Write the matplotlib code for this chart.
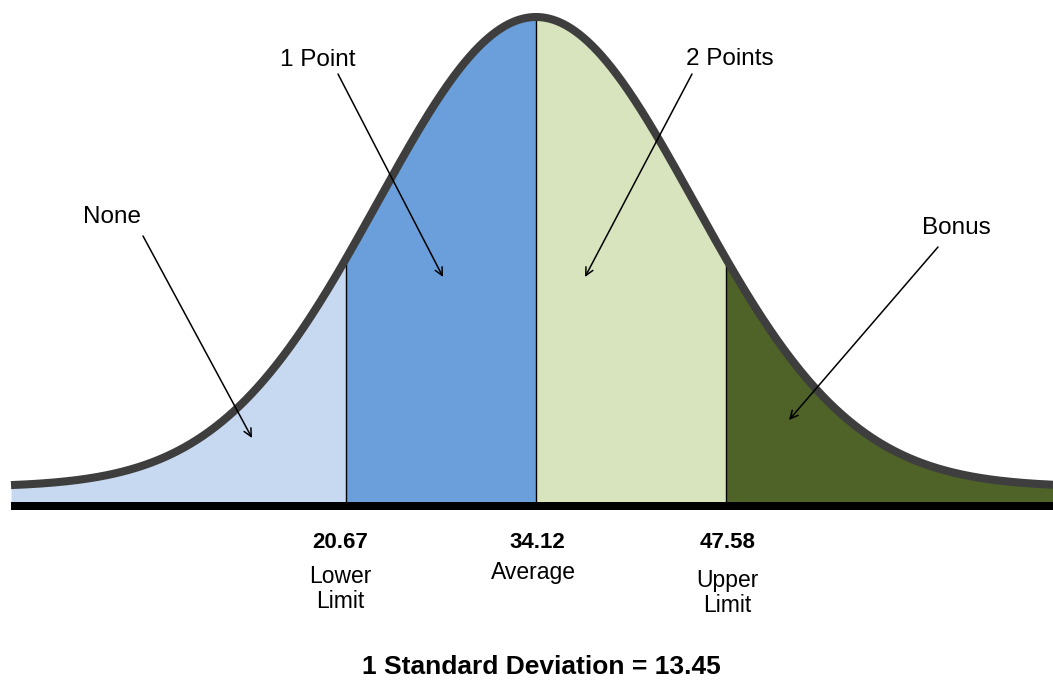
import numpy as np
import matplotlib
matplotlib.use("Agg")
import matplotlib.pyplot as plt
from matplotlib.patches import Rectangle

# ---- data ----
mean = 34.12
std_dev = 13.45
cut_values = [20.67, 34.12, 47.58]
cut_labels = ["Lower\nLimit", "Average", "Upper\nLimit"]
regions = ["None", "1 Point", "2 Points", "Bonus"]
region_colors = ["#C6D9F1", "#6A9FDC", "#D7E4BD", "#4F6228"]
title_text = "1 Standard Deviation = 13.45"

# ---- drawing style of the stylised bell curve ----
curve_width = 11.2      # visual spread of the drawn bell
curve_peak = 470.0      # peak height (axis units)
curve_floor = 15.0      # tail height above the baseline
x_lo, x_hi = -3.06, 70.73

plt.rcParams["font.family"] = ["Liberation Sans", "DejaVu Sans"]

fig = plt.figure(figsize=(10.53, 6.87), dpi=100)
ax = fig.add_axes([0, 0, 1, 1])
px_per_unit = 14.12
ax.set_xlim(mean - 536 / px_per_unit, mean + 517 / px_per_unit)
ax.set_ylim(-185, 502)
ax.axis("off")


def bell(x):
    return curve_floor + curve_peak * np.exp(-0.5 * ((x - mean) / curve_width) ** 2)


edges = [x_lo] + cut_values + [x_hi]
for i, col in enumerate(region_colors):
    xs = np.linspace(edges[i], edges[i + 1], 300)
    ax.fill_between(xs, 0, bell(xs), color=col, linewidth=0, zorder=1)

for c in cut_values:
    ax.plot([c, c], [0, bell(c)], color="black", lw=1.0, zorder=2)

xs = np.linspace(x_lo, x_hi, 1200)
ax.plot(xs, bell(xs), color="#3E3E3E", lw=5.8, solid_capstyle="butt", zorder=3)

# baseline bar
ax.add_patch(Rectangle((x_lo, -8), x_hi - x_lo + 5, 8, facecolor="black",
                       edgecolor="none", zorder=4, clip_on=False))


def px2x(px):
    return mean + (px - 536) / px_per_unit


def py2y(py):
    return 502 - py


# region labels with arrows (text pos, arrow start, arrow end) in pixel terms
label_pos = [(112, 217), (318, 60), (730, 59), (956, 228)]
arrow_from = [(143, 236), (338, 74), (692, 74), (938, 247)]
arrow_to = [(252, 438), (443, 277), (585, 277), (789, 420)]
for name, tp, af, at in zip(regions, label_pos, arrow_from, arrow_to):
    ax.text(px2x(tp[0]), py2y(tp[1]), name, ha="center", va="center",
            fontsize=17.5, color="black", zorder=6)
    ax.annotate("", xy=(px2x(at[0]), py2y(at[1])),
                xytext=(px2x(af[0]), py2y(af[1])),
                arrowprops=dict(arrowstyle="->", color="black", lw=1.1,
                                mutation_scale=14, shrinkA=0, shrinkB=0),
                zorder=6)

# values and limit labels under the axis
num_x = [340, 537, 728]
lab_x = [340, 533, 727]
lab_y = [589, 573, 593]
for v, lab, nx, lx, ly in zip(cut_values, cut_labels, num_x, lab_x, lab_y):
    ax.text(px2x(nx), py2y(542), f"{v:.2f}", ha="center", va="center",
            fontsize=16, fontweight="bold")
    ax.text(px2x(lx), py2y(ly), lab, ha="center", va="center",
            fontsize=16.5, linespacing=1.12)

ax.text(px2x(541), py2y(667), title_text, ha="center", va="center",
        fontsize=19, fontweight="bold")

fig.savefig("out.png", dpi=100, facecolor="white")
